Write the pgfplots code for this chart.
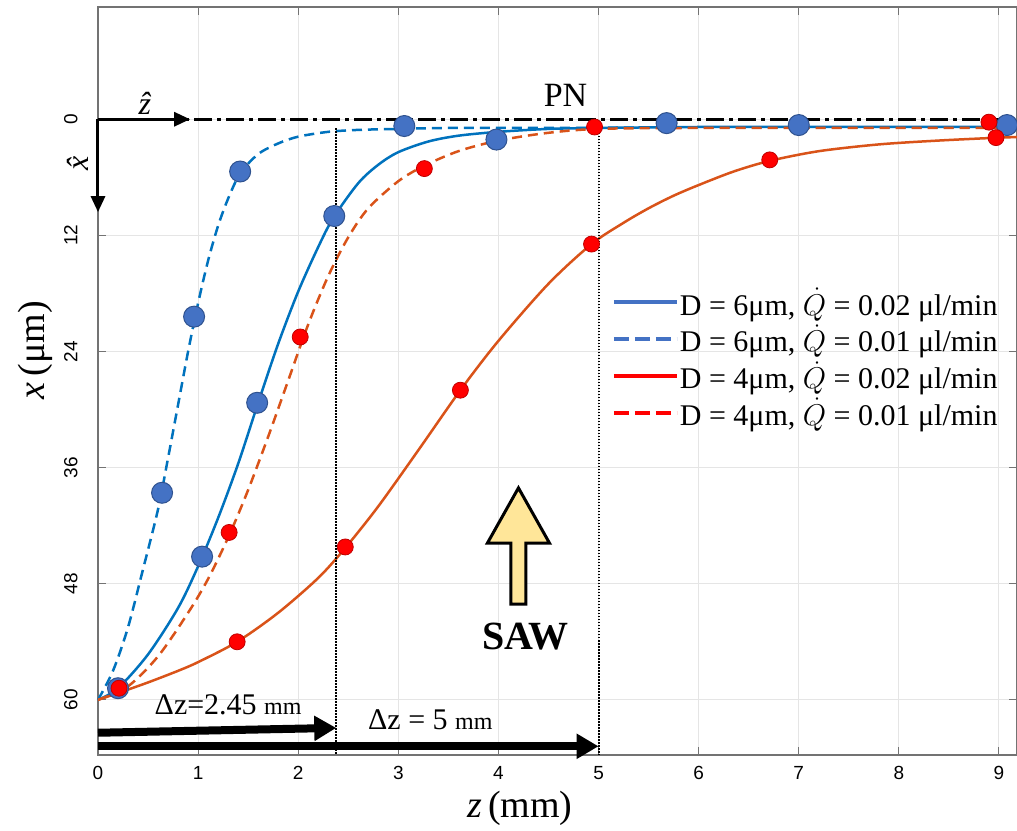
\RequirePackage{fix-cm}
\documentclass[border=0pt]{standalone}
\usepackage{fontspec}
\setmainfont{Liberation Serif}
\setsansfont{Liberation Sans}
\usepackage{pgfplots}
\pgfplotsset{compat=1.18}
\usetikzlibrary{arrows.meta}
\definecolor{cblue}{HTML}{0072BD}
\definecolor{corange}{HTML}{D95319}
\definecolor{mblue}{HTML}{4472C4}
\definecolor{mblueedge}{HTML}{2F528F}
\definecolor{mred}{HTML}{FF0000}
\definecolor{mrededge}{HTML}{C00000}
\definecolor{sawyellow}{HTML}{FFE699}

\pgfplotstableread{
x y
0 60
0.2 58.8
0.5 55.3
0.8 50.5
1.0 46.2
1.2 41.2
1.4 35.6
1.6 29.3
1.8 23.2
2.0 17.8
2.2 13.2
2.35 10.2
2.6 6.6
2.8 4.7
3.0 3.4
3.3 2.3
3.6 1.7
4.0 1.3
4.5 1.0
5.0 0.9
6.0 0.8
7.0 0.8
8.0 0.8
9.0 0.8
9.18 1.0
}\blueSolid

\pgfplotstableread{
x y
0 60
0.15 57
0.3 52.5
0.45 46.5
0.6 40.3
0.7 35
0.8 29.5
0.9 24
1.0 19
1.1 14.6
1.2 11
1.3 8.2
1.42 5.6
1.6 3.6
1.8 2.5
2.0 1.8
2.3 1.3
2.6 1.1
3.0 1.0
3.5 0.9
4.5 0.9
6.0 0.85
9.18 0.85
}\blueDashed

\pgfplotstableread{
x y
0 60
0.2 59.3
0.5 58.2
0.8 57
1.0 56.1
1.39 54
1.8 51
2.2 47.4
2.47 44.3
2.8 40
3.2 34.2
3.62 28
4.0 22.9
4.5 17.0
4.93 12.9
5.25 10.7
5.5 9.2
5.75 7.9
6.0 6.8
6.35 5.4
6.71 4.3
7.2 3.3
7.8 2.6
8.4 2.2
9.0 1.9
9.18 1.85
}\redSolid

\pgfplotstableread{
x y
0 60
0.3 58.6
0.6 55.5
0.9 51
1.1 47.5
1.31 43
1.5 38.3
1.7 32.8
1.9 27
2.1 21.2
2.3 16.2
2.5 12.2
2.7 9.2
3.0 6.4
3.26 4.8
3.6 3.3
4.0 2.2
4.5 1.4
5.0 1.0
6.0 0.9
9.18 0.9
}\redDashed

\pgfplotstableread{
x y
0.20 58.8
0.64 38.6
0.96 20.4
1.42 5.4
1.04 45.2
1.59 29.3
2.36 10.0
3.06 0.7
3.98 2.1
5.68 0.4
7.00 0.6
9.08 0.6
}\blueMarks

\pgfplotstableread{
x y
0.21 58.8
1.39 54.0
1.31 42.7
2.02 22.5
2.47 44.2
3.26 5.1
3.62 28.0
4.93 12.9
4.96 0.8
6.71 4.2
8.90 0.3
8.97 1.9
}\redMarks

\begin{document}
\begin{tikzpicture}
\begin{axis}[
  scale only axis, width=919pt, height=748pt,
  xmin=0, xmax=9.18, ymin=-11.6, ymax=65.7, y dir=reverse,
  xtick={0,1,2,3,4,5,6,7,8,9}, ytick={0,12,24,36,48,60},
  grid=major, major grid style={draw=black!10, line width=1pt},
  tick align=inside, major tick length=8pt,
  tick style={draw=black!55, line width=1pt},
  axis line style={draw=black!55, line width=1.2pt},
  /pgf/number format/assume math mode=true,
  tick label style={font=\fontsize{19}{22}\selectfont\sffamily},
  yticklabel style={rotate=90, anchor=south},
  yticklabel shift=17pt,
  xticklabel shift=8pt,
  xlabel={\textit{z}\,(mm)}, ylabel={\textit{x}\,(μm)},
  label style={font=\fontsize{38}{42}\selectfont},
  xlabel style={at={(axis description cs:0.459,-0.071)}, anchor=center},
  ylabel style={at={(axis description cs:-0.0686,0.541)}, anchor=center},
  clip=false,
  legend style={at={(axis description cs:0.559,0.626)}, anchor=north west,
    draw=none, fill=none, font=\fontsize{30}{34}\selectfont,
    row sep=6pt, inner sep=0pt, cells={anchor=west},
    nodes={inner sep=1pt}},
  legend image code/.code={\draw[#1] (0pt,0pt) -- (63pt,0pt);},
]
% PN line
\addplot[forget plot, black, line width=2.5pt, dash pattern=on 18pt off 5pt on 4pt off 5pt] coordinates {(0,0) (9.18,0)};
% curves
\addplot[forget plot, cblue, line width=2.5pt, smooth] table[x=x,y=y] {\blueSolid};
\addplot[forget plot, cblue, line width=2.5pt, smooth, dash pattern=on 10pt off 6pt] table[x=x,y=y] {\blueDashed};
\addplot[forget plot, corange, line width=2.5pt, smooth] table[x=x,y=y] {\redSolid};
\addplot[forget plot, corange, line width=2.5pt, smooth, dash pattern=on 10pt off 6pt] table[x=x,y=y] {\redDashed};
% dotted verticals
\addplot[forget plot, black, line width=2pt, dash pattern=on 1.5pt off 1.5pt] coordinates {(2.38,0.95) (2.38,65.7)};
\addplot[forget plot, black, line width=2pt, dash pattern=on 1.5pt off 1.5pt] coordinates {(5.0,0.8) (5.0,65.7)};
% markers
\addplot[forget plot, only marks, mark=*, mark size=10.5pt, mark options={fill=mblue, draw=mblueedge, line width=1pt}] table[x=x,y=y] {\blueMarks};
\addplot[forget plot, only marks, mark=*, mark size=8pt, mark options={fill=mred, draw=mrededge, line width=0.8pt}] table[x=x,y=y] {\redMarks};

% coordinate frame arrows
\draw[black, line width=3pt, -{Triangle[length=16pt,width=14pt]}] (axis cs:0,0) -- (axis cs:0.92,0);
\draw[black, line width=3pt, -{Triangle[length=16pt,width=14pt]}] (axis cs:0,0) -- (axis cs:0,9.6);
\node[font=\fontsize{32}{36}\selectfont, inner sep=0pt] at (axis cs:0.47,-1.6) {\textit{ẑ}};
\node[font=\fontsize{32}{36}\selectfont, rotate=90, inner sep=0pt] at (axis cs:-0.2,3.9) {\textit{x̂}};
\node[font=\fontsize{34}{38}\selectfont] at (axis cs:4.67,-2.5) {PN};

% bottom arrows
\draw[black, line width=8pt, -{Triangle[length=22pt,width=24pt]}] (axis cs:0,63.4) -- (axis cs:2.38,62.9);
\draw[black, line width=8pt, -{Triangle[length=22pt,width=24pt]}] (axis cs:0,64.8) -- (axis cs:5.0,64.8);
\node[font=\fontsize{30}{34}\selectfont] at (axis cs:1.30,60.5) {Δz=2.45 {\fontsize{24}{28}\selectfont mm}};
\node[font=\fontsize{30}{34}\selectfont] at (axis cs:3.32,62.1) {Δz = 5 {\fontsize{24}{28}\selectfont mm}};

% SAW arrow
\draw[black, line width=3pt, fill=sawyellow, line join=miter]
  (axis cs:4.125,50.1) -- (axis cs:4.125,43.8) -- (axis cs:3.89,43.8) -- (axis cs:4.2,38.1)
  -- (axis cs:4.51,43.8) -- (axis cs:4.275,43.8) -- (axis cs:4.275,50.1) -- cycle;
\node[font=\bfseries\fontsize{40}{44}\selectfont] at (axis cs:4.27,53.5) {SAW};

% legend
\addlegendimage{color=mblue, line width=4pt}
\addlegendentry{D = 6μm, $\dot{Q}$ = 0.02 μl/min}
\addlegendimage{color=mblue, line width=4pt, dash pattern=on 15pt off 6pt}
\addlegendentry{D = 6μm, $\dot{Q}$ = 0.01 μl/min}
\addlegendimage{color=mred, line width=4pt}
\addlegendentry{D = 4μm, $\dot{Q}$ = 0.02 μl/min}
\addlegendimage{color=mred, line width=4pt, dash pattern=on 15pt off 6pt}
\addlegendentry{D = 4μm, $\dot{Q}$ = 0.01 μl/min}

\coordinate (BL) at (axis cs:0,65.7);
\coordinate (TR) at (axis cs:9.18,-11.6);
\end{axis}
\pgfresetboundingbox
\path[use as bounding box] ([xshift=-98pt,yshift=-76pt]BL) rectangle ([yshift=7pt]TR);
\end{tikzpicture}
\end{document}
